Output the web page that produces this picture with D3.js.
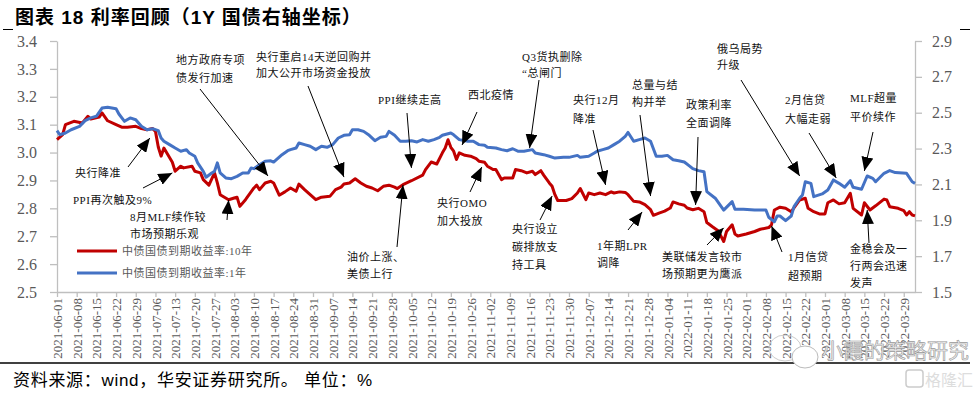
<!DOCTYPE html>
<html><head><meta charset="utf-8">
<script src="https://cdn.jsdelivr.net/npm/d3@7/dist/d3.min.js"></script>
<style>body{margin:0;background:#fff}svg{display:block}</style>
</head><body><svg id="c" width="979" height="393"></svg>
<script>
// ---------------- DATA ----------------
const tickLabels = ["2021-06-01","2021-06-08","2021-06-15","2021-06-22","2021-06-29","2021-07-06","2021-07-13","2021-07-20","2021-07-27","2021-08-03","2021-08-10","2021-08-17","2021-08-24","2021-08-31","2021-09-07","2021-09-14","2021-09-21","2021-09-28","2021-10-05","2021-10-12","2021-10-19","2021-10-26","2021-11-02","2021-11-09","2021-11-16","2021-11-23","2021-11-30","2021-12-07","2021-12-14","2021-12-21","2021-12-28","2022-01-04","2022-01-11","2022-01-18","2022-01-25","2022-02-01","2022-02-08","2022-02-15","2022-02-22","2022-03-01","2022-03-08","2022-03-15","2022-03-22","2022-03-29"];
const axisStart = "2021-06-01", axisEnd = "2022-04-02";
const leftTicks = [2.5,2.6,2.7,2.8,2.9,3.0,3.1,3.2,3.3,3.4];
const rightTicks = [1.5,1.7,1.9,2.1,2.3,2.5,2.7,2.9];

const dates10Y = ["2021-06-01","2021-06-03","2021-06-04","2021-06-07","2021-06-10","2021-06-12","2021-06-13","2021-06-16","2021-06-17","2021-06-19","2021-06-22","2021-06-24","2021-06-26","2021-06-29","2021-07-01","2021-07-03","2021-07-05","2021-07-06","2021-07-07","2021-07-08","2021-07-09","2021-07-12","2021-07-13","2021-07-15","2021-07-16","2021-07-19","2021-07-20","2021-07-22","2021-07-23","2021-07-25","2021-07-27","2021-07-28","2021-07-29","2021-08-01","2021-08-03","2021-08-04","2021-08-05","2021-08-07","2021-08-10","2021-08-11","2021-08-12","2021-08-14","2021-08-16","2021-08-17","2021-08-19","2021-08-21","2021-08-23","2021-08-25","2021-08-26","2021-08-28","2021-08-30","2021-09-01","2021-09-03","2021-09-06","2021-09-08","2021-09-10","2021-09-11","2021-09-13","2021-09-15","2021-09-17","2021-09-19","2021-09-21","2021-09-23","2021-09-25","2021-09-27","2021-09-29","2021-09-30","2021-10-02","2021-10-05","2021-10-09","2021-10-10","2021-10-12","2021-10-14","2021-10-16","2021-10-17","2021-10-18","2021-10-19","2021-10-20","2021-10-21","2021-10-22","2021-10-24","2021-10-26","2021-10-28","2021-10-29","2021-10-31","2021-11-01","2021-11-03","2021-11-04","2021-11-06","2021-11-07","2021-11-10","2021-11-11","2021-11-13","2021-11-15","2021-11-17","2021-11-18","2021-11-20","2021-11-21","2021-11-23","2021-11-24","2021-11-25","2021-11-26","2021-11-29","2021-12-01","2021-12-03","2021-12-04","2021-12-06","2021-12-07","2021-12-09","2021-12-11","2021-12-13","2021-12-15","2021-12-16","2021-12-18","2021-12-20","2021-12-21","2021-12-23","2021-12-25","2021-12-27","2021-12-29","2021-12-30","2022-01-01","2022-01-03","2022-01-05","2022-01-06","2022-01-08","2022-01-10","2022-01-11","2022-01-13","2022-01-15","2022-01-17","2022-01-18","2022-01-20","2022-01-22","2022-01-24","2022-01-25","2022-01-27","2022-01-28","2022-01-29","2022-02-01","2022-02-04","2022-02-06","2022-02-09","2022-02-10","2022-02-11","2022-02-13","2022-02-15","2022-02-17","2022-02-19","2022-02-20","2022-02-22","2022-02-23","2022-02-25","2022-02-27","2022-03-01","2022-03-02","2022-03-04","2022-03-06","2022-03-08","2022-03-10","2022-03-11","2022-03-14","2022-03-15","2022-03-17","2022-03-19","2022-03-22","2022-03-23","2022-03-24","2022-03-27","2022-03-29","2022-03-30","2022-03-31","2022-04-01","2022-04-02"];
const yield10Y = [3.046,3.064,3.100,3.112,3.106,3.130,3.120,3.127,3.142,3.114,3.100,3.091,3.091,3.094,3.086,3.082,3.086,3.076,3.020,2.987,3.016,2.965,2.933,2.951,2.945,2.951,2.933,2.927,2.903,2.883,2.927,2.891,2.849,2.831,2.837,2.840,2.807,2.831,2.873,2.883,2.867,2.891,2.897,2.891,2.847,2.859,2.873,2.861,2.887,2.867,2.849,2.831,2.840,2.843,2.867,2.876,2.887,2.891,2.906,2.891,2.879,2.873,2.863,2.879,2.883,2.876,2.871,2.885,2.899,2.919,2.939,2.966,2.959,2.999,3.016,3.046,3.019,3.005,2.975,2.999,2.990,2.987,2.978,2.969,2.965,2.951,2.939,2.939,2.903,2.909,2.909,2.939,2.935,2.927,2.933,2.921,2.935,2.919,2.891,2.879,2.849,2.828,2.828,2.835,2.855,2.871,2.831,2.855,2.849,2.855,2.849,2.859,2.855,2.859,2.857,2.849,2.825,2.823,2.813,2.795,2.775,2.783,2.790,2.801,2.823,2.816,2.811,2.801,2.795,2.800,2.788,2.749,2.734,2.720,2.681,2.717,2.741,2.708,2.701,2.708,2.717,2.725,2.731,2.741,2.794,2.804,2.800,2.788,2.816,2.830,2.836,2.800,2.788,2.780,2.780,2.820,2.830,2.816,2.820,2.854,2.800,2.776,2.820,2.794,2.809,2.833,2.830,2.806,2.800,2.792,2.776,2.788,2.776,2.773];

const dates1Y = ["2021-06-01","2021-06-02","2021-06-04","2021-06-06","2021-06-09","2021-06-11","2021-06-13","2021-06-15","2021-06-17","2021-06-19","2021-06-22","2021-06-23","2021-06-25","2021-06-27","2021-06-29","2021-07-01","2021-07-03","2021-07-05","2021-07-07","2021-07-08","2021-07-09","2021-07-11","2021-07-13","2021-07-15","2021-07-17","2021-07-18","2021-07-20","2021-07-21","2021-07-23","2021-07-24","2021-07-26","2021-07-27","2021-07-28","2021-07-29","2021-07-31","2021-08-02","2021-08-04","2021-08-06","2021-08-08","2021-08-09","2021-08-10","2021-08-12","2021-08-14","2021-08-16","2021-08-17","2021-08-20","2021-08-22","2021-08-23","2021-08-25","2021-08-26","2021-08-28","2021-08-30","2021-09-01","2021-09-03","2021-09-05","2021-09-07","2021-09-09","2021-09-11","2021-09-13","2021-09-14","2021-09-16","2021-09-18","2021-09-20","2021-09-22","2021-09-24","2021-09-26","2021-09-27","2021-09-29","2021-10-01","2021-10-03","2021-10-05","2021-10-07","2021-10-09","2021-10-11","2021-10-13","2021-10-15","2021-10-16","2021-10-19","2021-10-20","2021-10-22","2021-10-25","2021-10-27","2021-10-29","2021-10-31","2021-11-01","2021-11-04","2021-11-06","2021-11-08","2021-11-10","2021-11-12","2021-11-14","2021-11-17","2021-11-18","2021-11-21","2021-11-23","2021-11-25","2021-11-28","2021-11-30","2021-12-03","2021-12-04","2021-12-07","2021-12-09","2021-12-10","2021-12-12","2021-12-14","2021-12-16","2021-12-18","2021-12-20","2021-12-21","2021-12-23","2021-12-25","2021-12-27","2021-12-29","2021-12-31","2022-01-02","2022-01-04","2022-01-06","2022-01-08","2022-01-10","2022-01-12","2022-01-13","2022-01-15","2022-01-17","2022-01-18","2022-01-21","2022-01-24","2022-01-27","2022-01-28","2022-01-31","2022-02-04","2022-02-08","2022-02-09","2022-02-11","2022-02-12","2022-02-13","2022-02-15","2022-02-17","2022-02-18","2022-02-20","2022-02-21","2022-02-22","2022-02-24","2022-02-25","2022-02-28","2022-03-02","2022-03-04","2022-03-06","2022-03-08","2022-03-10","2022-03-11","2022-03-14","2022-03-16","2022-03-18","2022-03-19","2022-03-22","2022-03-24","2022-03-26","2022-03-30","2022-04-01","2022-04-02"];
const yield1Y = [2.400,2.377,2.387,2.405,2.424,2.456,2.471,2.480,2.526,2.530,2.522,2.493,2.452,2.471,2.461,2.424,2.405,2.411,2.400,2.359,2.341,2.322,2.303,2.285,2.294,2.275,2.257,2.220,2.173,2.140,2.164,2.173,2.220,2.164,2.136,2.132,2.145,2.164,2.164,2.192,2.188,2.210,2.229,2.232,2.225,2.266,2.288,2.294,2.303,2.331,2.322,2.313,2.294,2.313,2.307,2.322,2.359,2.374,2.377,2.405,2.405,2.396,2.374,2.344,2.363,2.368,2.396,2.374,2.341,2.341,2.344,2.337,2.350,2.341,2.350,2.363,2.374,2.387,2.377,2.350,2.341,2.341,2.322,2.318,2.307,2.303,2.294,2.288,2.299,2.285,2.285,2.294,2.275,2.266,2.257,2.247,2.251,2.251,2.262,2.251,2.257,2.275,2.285,2.294,2.303,2.322,2.341,2.368,2.390,2.341,2.350,2.359,2.341,2.257,2.257,2.262,2.238,2.232,2.225,2.201,2.188,2.177,2.171,2.060,2.023,1.957,2.004,1.961,1.961,1.957,1.957,1.917,1.892,1.924,1.924,1.898,1.924,1.976,2.023,2.041,2.115,2.106,2.032,2.047,2.069,2.125,2.106,2.084,2.121,2.084,2.073,2.147,2.134,2.115,2.162,2.177,2.166,2.162,2.115,2.106];

const seriesNames = ["中债国债到期收益率:10年","中债国债到期收益率:1年"];
const titleText = "图表 18 利率回顾（1Y 国债右轴坐标）";
const sourceText = "资料来源：wind，华安证券研究所。 单位：%";

const noteTexts = [
  ["地方政府专项","债发行加速"],
  ["央行重启14天逆回购并","加大公开市场资金投放"],
  ["PPI继续走高"],
  ["西北疫情"],
  ["Q3货执删除","“总闸门"],
  ["央行12月","降准"],
  ["总量与结","构并举"],
  ["政策利率","全面调降"],
  ["俄乌局势","升级"],
  ["2月信贷","大幅走弱"],
  ["MLF超量","平价续作"],
  ["央行降准"],
  ["PPI再次触及9%"],
  ["8月MLF续作较","市场预期乐观"],
  ["油价上涨、","美债上行"],
  ["央行OMO","加大投放"],
  ["央行设立","碳排放支","持工具"],
  ["1年期LPR","调降"],
  ["美联储发言较市","场预期更为鹰派"],
  ["1月信贷","超预期"],
  ["金稳会及一","行两会迅速","发声"]
];
// arrow targets: date and left-axis value
const noteDates = ["2021-08-15","2021-09-11","2021-10-05","2021-10-23","2021-11-16","2021-12-13","2021-12-29","2022-01-14","2022-02-20","2022-03-05","2022-03-15","2021-07-04","2021-07-12","2021-08-01","2021-10-02","2021-10-30","2021-11-24","2021-12-26","2022-01-24","2022-02-10","2022-03-16"];
const noteValues = [2.916,2.912,2.945,3.027,3.016,2.884,2.844,2.812,2.916,2.909,2.934,3.052,2.927,2.830,2.884,2.948,2.844,2.787,2.730,2.737,2.794];

// ---------------- LAYOUT ----------------
const L = 57, R = 915, T = 41, B = 292;
// text x, first-line center y, line spacing, arrow start x, y
const noteLayout = [
  [176,60,18,200,89],[256,57,16,308,86],[378,100,17,407,113],[468,95,17,477,112],
  [522,57,16,539,80],[573,100,19,593,130],[632,85,17,640,115],[686,105,18,698,137],
  [717,49,16,741,80],[785,100,19,809,133],[850,98,19,873,132],[75,173,17,128,167],
  [73,200,17,143,188],[130,217,17,227,220],[347,257,17,397,247],[437,203,18,470,192],
  [512,229,18,540,220],[597,246,17,628,230],[662,257,17,707,245],[788,257,19,782,252],
  [850,249,17,869,243]
];

const parse = d3.timeParse("%Y-%m-%d");
const svg = d3.select("#c");
const x = d3.scaleTime().domain([parse(axisStart), parse(axisEnd)]).range([L, R]);
const yL = d3.scaleLinear().domain([2.5, 3.4]).range([B, T]);
const yR = d3.scaleLinear().domain([1.5, 2.9]).range([B, T]);

const serif = "'Liberation Serif','Noto Sans CJK SC',serif";
const axisColor = "#bfbfbf", labelColor = "#595959";

// title
svg.append("text").attr("x", 15).attr("y", 24)
  .attr("font-family", "'Liberation Sans','Noto Sans CJK SC',sans-serif")
  .attr("font-weight", "bold").attr("font-size", 19).attr("letter-spacing", 1).attr("fill", "#000")
  .text(titleText);
svg.append("line").attr("x1", 3).attr("x2", 13).attr("y1", 29.5).attr("y2", 29.5).attr("stroke", "#000");
svg.append("line").attr("x1", 960).attr("x2", 970).attr("y1", 29.5).attr("y2", 29.5).attr("stroke", "#000");

// axes
function styleAxis(g) {
  g.select(".domain").attr("stroke", axisColor).attr("stroke-width", 1.3);
  g.selectAll(".tick line").attr("stroke", axisColor).attr("stroke-width", 1.3);
  g.selectAll("text").attr("fill", labelColor).attr("font-family", serif);
}
const gL = svg.append("g").attr("transform", `translate(${L},0)`)
  .call(d3.axisLeft(yL).tickValues(leftTicks).tickFormat(d3.format(".1f")).tickSize(7).tickPadding(13).tickSizeOuter(0));
styleAxis(gL); gL.selectAll("text").attr("font-size", 16);
const gR = svg.append("g").attr("transform", `translate(${R},0)`)
  .call(d3.axisRight(yR).tickValues(rightTicks).tickFormat(d3.format(".1f")).tickSize(7).tickPadding(10).tickSizeOuter(0));
styleAxis(gR); gR.selectAll("text").attr("font-size", 16);
const gX = svg.append("g").attr("transform", `translate(0,${B})`)
  .call(d3.axisBottom(x).tickValues(tickLabels.map(parse)).tickFormat(d3.timeFormat("%Y-%m-%d")).tickSize(5).tickSizeOuter(0));
styleAxis(gX);
gX.selectAll("text").attr("font-size", 13).attr("transform", "rotate(-90)")
  .attr("text-anchor", "end").attr("x", -6).attr("y", 0).attr("dy", "0.35em");

// lines
const red = dates10Y.map((d, i) => ({ d: parse(d), v: yield10Y[i] }));
const blue = dates1Y.map((d, i) => ({ d: parse(d), v: yield1Y[i] }));
svg.append("path").datum(red).attr("fill", "none").attr("stroke", "#C00000").attr("stroke-width", 3)
  .attr("stroke-linejoin", "round").attr("d", d3.line().x(p => x(p.d)).y(p => yL(p.v)));
svg.append("path").datum(blue).attr("fill", "none").attr("stroke", "#4472C4").attr("stroke-width", 3)
  .attr("stroke-linejoin", "round").attr("d", d3.line().x(p => x(p.d)).y(p => yR(p.v)));

// legend
const legY = [251, 273], legCol = ["#C00000", "#4472C4"];
seriesNames.forEach((n, i) => {
  svg.append("line").attr("x1", 77).attr("x2", 117).attr("y1", legY[i]).attr("y2", legY[i])
    .attr("stroke", legCol[i]).attr("stroke-width", 3);
  svg.append("text").attr("x", 122).attr("y", legY[i] + 4).attr("font-size", 11)
    .attr("letter-spacing", 0.5).attr("font-family", serif).attr("fill", labelColor).text(n);
});

// arrow marker
svg.append("defs").append("marker").attr("id", "ah").attr("markerUnits", "userSpaceOnUse")
  .attr("markerWidth", 14).attr("markerHeight", 12).attr("refX", 14).attr("refY", 6)
  .attr("orient", "auto").append("path").attr("d", "M0,0L14,6L0,12Z").attr("fill", "#000");

// annotations
noteTexts.forEach((lines, i) => {
  const [tx, ty, ls, sx, sy] = noteLayout[i];
  lines.forEach((t, j) => {
    svg.append("text").attr("x", tx).attr("y", ty + j * ls + 4).attr("font-size", 11)
      .attr("letter-spacing", 0.5).attr("font-family", serif).attr("fill", "#111").text(t);
  });
  svg.append("line").attr("x1", sx).attr("y1", sy)
    .attr("x2", x(parse(noteDates[i]))).attr("y2", yL(noteValues[i]))
    .attr("stroke", "#000").attr("stroke-width", 1).attr("marker-end", "url(#ah)");
});

// footer
svg.append("line").attr("x1", 0).attr("x2", 970).attr("y1", 363).attr("y2", 363).attr("stroke", "#000").attr("stroke-width", 1.5);
svg.append("text").attr("x", 13).attr("y", 386).attr("font-size", 17).attr("letter-spacing", 0.7)
  .attr("font-family", "'Liberation Sans','Noto Sans CJK SC',sans-serif").attr("fill", "#000").text(sourceText);

// watermark
svg.append("ellipse").attr("cx", 785).attr("cy", 348).attr("rx", 16).attr("ry", 13).attr("fill", "none").attr("stroke", "#ccc");
svg.append("ellipse").attr("cx", 805).attr("cy", 357).attr("rx", 13).attr("ry", 11).attr("fill", "#fff").attr("stroke", "#bbb");
svg.append("text").attr("x", 822).attr("y", 358).attr("font-size", 21)
  .attr("font-family", "'Noto Sans CJK SC',sans-serif").attr("fill", "#f0f0f0").attr("stroke", "#999").attr("stroke-width", 0.6)
  .text("小霞的策略研究");
svg.append("rect").attr("x", 906).attr("y", 370).attr("width", 17).attr("height", 17).attr("rx", 3).attr("fill", "none").attr("stroke", "#ccc").attr("stroke-width", 1.5);
svg.append("text").attr("x", 925).attr("y", 386).attr("font-size", 16)
  .attr("font-family", "'Noto Sans CJK SC',sans-serif").attr("fill", "#ddd").text("格隆汇");
</script></body></html>
